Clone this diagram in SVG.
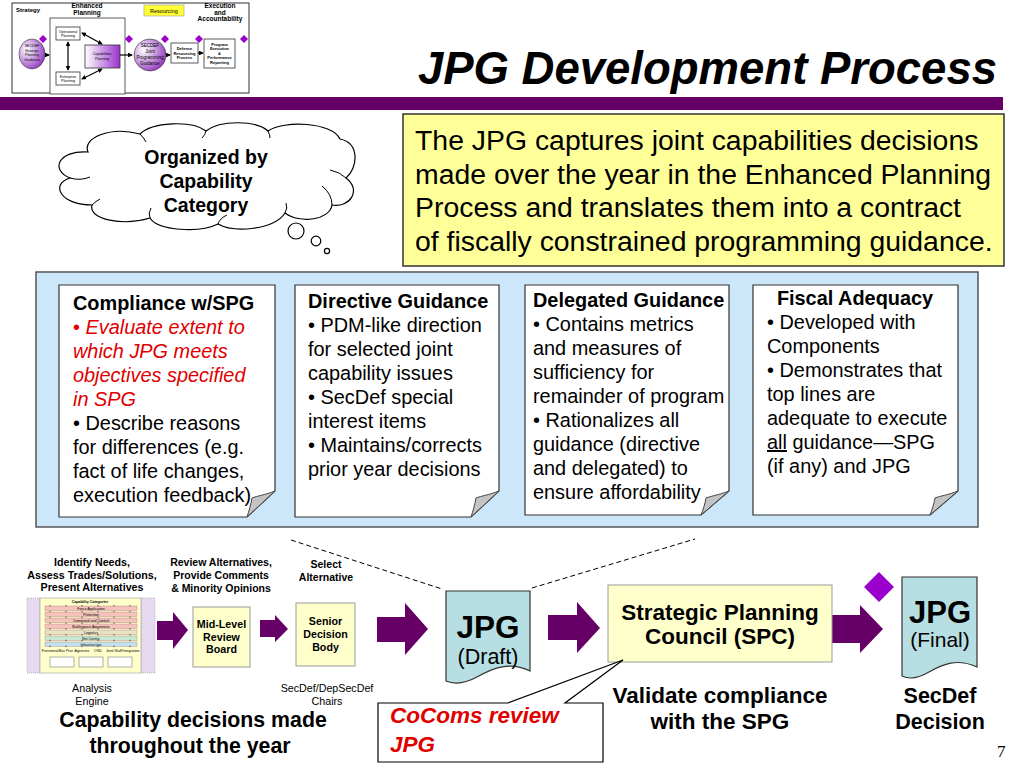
<svg xmlns="http://www.w3.org/2000/svg" width="1024" height="768" viewBox="0 0 1024 768">
<defs>
<style>
text{font-family:"Liberation Sans",Arial,sans-serif;fill:#000}
.b{font-weight:bold}
.c{text-anchor:middle}
.body{font-size:19.9px}
.red{fill:#e00000}
.arr{fill:#660066}
.note{fill:#fff;stroke:#333;stroke-width:1.2}
.fold{fill:#c4c4c4;stroke:#444;stroke-width:1}
.ybox{fill:#ffffcc;stroke:#999;stroke-width:1}
.doc{fill:#b7dee3;stroke:#333;stroke-width:1.2}
.tiny{font-size:3.6px}
.mini{font-size:6.5px;font-weight:bold}
.mb{fill:#fff;stroke:#333;stroke-width:0.8}
.dia{fill:#9900cc}
.ml{stroke:#000;stroke-width:1.2;fill:none}
</style>
<linearGradient id="pg" x1="0" y1="0" x2="1" y2="0"><stop offset="0" stop-color="#fff"/><stop offset="1" stop-color="#9933cc"/></linearGradient>
<radialGradient id="cg" cx="0.3" cy="0.35" r="0.8"><stop offset="0" stop-color="#fff"/><stop offset="1" stop-color="#8a2bb8"/></radialGradient>
<marker id="ma" viewBox="0 0 6 6" refX="5" refY="3" markerWidth="4" markerHeight="4" orient="auto-start-reverse"><path d="M0,0 L6,3 L0,6 Z" fill="#000"/></marker>
</defs>
<rect width="1024" height="768" fill="#fff"/>

<!-- mini overview diagram -->
<g id="overview">
<rect x="12" y="3" width="237" height="90" fill="#fff" stroke="#333" stroke-width="1"/>
<text x="16" y="12" class="mini" style="font-size:6px">Strategy</text>
<text x="87" y="8" class="mini c">Enhanced</text>
<text x="87" y="15" class="mini c">Planning</text>
<rect x="144" y="5" width="40" height="11" fill="#ffff33" stroke="#999" stroke-width="0.6"/>
<text x="164" y="13" class="c" style="font-size:5.5px">Resourcing</text>
<text x="220" y="8" class="mini c">Execution</text>
<text x="220" y="14.5" class="mini c">and</text>
<text x="220" y="21" class="mini c">Accountability</text>
<rect x="50" y="18" width="75" height="76" fill="#fff" stroke="#333" stroke-width="0.8"/>
<rect x="56" y="27" width="24" height="13" class="mb"/>
<text x="68" y="32.5" class="tiny c">Operational</text><text x="68" y="37" class="tiny c">Planning</text>
<rect x="56" y="72" width="24" height="13" class="mb"/>
<text x="68" y="77.5" class="tiny c">Enterprise</text><text x="68" y="82" class="tiny c">Planning</text>
<rect x="85" y="45" width="35" height="23" fill="url(#pg)" stroke="#333" stroke-width="0.8"/>
<text x="102" y="55" class="tiny c">Capabilities</text><text x="102" y="59.5" class="tiny c">Planning</text>
<line x1="68" y1="42" x2="68" y2="70" class="ml" marker-start="url(#ma)" marker-end="url(#ma)"/>
<line x1="82" y1="33" x2="102" y2="44" class="ml" marker-start="url(#ma)" marker-end="url(#ma)"/>
<line x1="82" y1="79" x2="102" y2="69" class="ml" marker-start="url(#ma)" marker-end="url(#ma)"/>
<ellipse cx="32" cy="54" rx="13" ry="15" fill="url(#cg)" stroke="#333" stroke-width="0.6"/>
<text x="32" y="47" class="tiny c">SECDEF</text><text x="32" y="51.5" class="tiny c">Strategic</text><text x="32" y="56" class="tiny c">Planning</text><text x="32" y="60.5" class="tiny c">Guidance</text>
<line x1="45" y1="55" x2="49" y2="55" class="ml" marker-end="url(#ma)"/>
<line x1="120" y1="55" x2="132" y2="55" class="ml" marker-end="url(#ma)"/>
<ellipse cx="150" cy="55" rx="16" ry="16" fill="url(#cg)" stroke="#333" stroke-width="0.6"/>
<text x="150" y="47" class="c" style="font-size:4.5px">SECDEF</text><text x="150" y="53" class="c" style="font-size:4.5px">Joint</text><text x="150" y="59" class="c" style="font-size:4.5px">Programming</text><text x="150" y="65" class="c" style="font-size:4.5px">Guidance</text>
<line x1="166" y1="55" x2="170" y2="55" class="ml" marker-end="url(#ma)"/>
<rect x="171" y="43" width="27" height="20" class="mb"/>
<text x="184.5" y="50" class="c b" style="font-size:4px">Defense</text><text x="184.5" y="54.5" class="c b" style="font-size:4px">Resourcing</text><text x="184.5" y="59" class="c b" style="font-size:4px">Process</text>
<line x1="198" y1="53" x2="203" y2="53" class="ml" marker-end="url(#ma)"/>
<rect x="204" y="39" width="31" height="29" class="mb"/>
<text x="219.5" y="45.5" class="c b" style="font-size:4px">Program</text><text x="219.5" y="50" class="c b" style="font-size:4px">Execution</text><text x="219.5" y="54.5" class="c b" style="font-size:4px">&amp;</text><text x="219.5" y="59" class="c b" style="font-size:4px">Performance</text><text x="219.5" y="63.5" class="c b" style="font-size:4px">Reporting</text>
<path class="dia" d="M43,35 L47,39 L43,43 L39,39 Z M129,35 L133,39 L129,43 L125,39 Z M165,35 L169,39 L165,43 L161,39 Z M199,35 L203,39 L199,43 L195,39 Z M244,35 L248,39 L244,43 L240,39 Z"/>
</g>

<!-- title -->
<g id="title">
<text x="997" y="84" class="b" style="font-size:45.5px;font-style:italic;text-anchor:end">JPG Development Process</text>
<rect x="0" y="97" width="1003" height="13" fill="#660066"/>
</g>

<!-- summary box -->
<g id="summary">
<rect x="403" y="114" width="601" height="152" fill="#ffff99" stroke="#333" stroke-width="1.5"/>
<text x="415" y="150" style="font-size:28.4px">The JPG captures joint capabilities decisions</text>
<text x="415" y="184" style="font-size:28.4px">made over the year in the Enhanced Planning</text>
<text x="415" y="217" style="font-size:28.4px">Process and translates them into a contract</text>
<text x="415" y="251" style="font-size:28.4px">of fiscally constrained programming guidance.</text>
</g>

<!-- cloud -->
<g id="cloud">
<path d="M88,152 C82,138 110,126 140,134 C152,122 192,120 206,131 C220,120 256,120 268,131 C284,120 332,122 340,139 C360,143 358,168 346,178 C362,190 350,208 332,205 C330,220 300,224 285,213 C274,230 234,233 218,224 C200,233 158,231 150,218 C124,226 88,220 92,205 C60,205 50,184 70,178 C50,170 58,150 88,152 Z" fill="#fff" stroke="#000" stroke-width="1.2"/>
<path d="M70,178 Q80,181 90,177 M92,205 Q96,201 100,199 M150,218 Q148,213 151,208 M218,224 Q220,218 227,215 M285,213 Q288,208 286,203 M332,205 Q332,194 322,186 M346,178 Q340,172 330,170 M140,134 Q144,138 146,142 M206,131 Q205,135 202,138 M268,131 Q270,135 270,138" fill="none" stroke="#000" stroke-width="1"/>
<circle cx="296" cy="231" r="8" fill="#fff" stroke="#000" stroke-width="1.2"/>
<circle cx="316" cy="241" r="4.8" fill="#fff" stroke="#000" stroke-width="1.2"/>
<circle cx="327" cy="251" r="2.6" fill="#fff" stroke="#000" stroke-width="1.2"/>
<text x="206" y="164" class="b c" style="font-size:19.5px">Organized by</text>
<text x="206" y="188" class="b c" style="font-size:19.5px">Capability</text>
<text x="206" y="212" class="b c" style="font-size:19.5px">Category</text>
</g>

<!-- blue panel -->
<rect id="panel" x="36" y="272" width="942" height="255" fill="#cce6fa" stroke="#555" stroke-width="1.5"/>

<g id="box-compliance">
<path class="note" d="M59,285 H275 V491 L247,517 H59 Z"/>
<path class="fold" d="M275,491 C265,495 257,496 252,498 C251,504 249,511 247,517 Z"/>
<text x="73" y="310" class="b body">Compliance w/SPG</text>
<text x="73" y="334" class="body red" style="font-style:italic"><tspan style="font-style:normal">•</tspan> Evaluate extent to</text>
<text x="73" y="358" class="body red" style="font-style:italic">which JPG meets</text>
<text x="73" y="382" class="body red" style="font-style:italic">objectives specified</text>
<text x="73" y="406" class="body red" style="font-style:italic">in SPG</text>
<text x="73" y="430" class="body">• Describe reasons</text>
<text x="73" y="454" class="body">for differences (e.g.</text>
<text x="73" y="478" class="body">fact of life changes,</text>
<text x="73" y="502" class="body">execution feedback)</text>
</g>

<g id="box-directive">
<path class="note" d="M295,285 H499 V491 L471,517 H295 Z"/>
<path class="fold" d="M499,491 C489,495 481,496 476,498 C475,504 473,511 471,517 Z"/>
<text x="308" y="308" class="b body">Directive Guidance</text>
<text x="308" y="332" class="body">• PDM-like direction</text>
<text x="308" y="356" class="body">for selected joint</text>
<text x="308" y="380" class="body">capability issues</text>
<text x="308" y="404" class="body">• SecDef special</text>
<text x="308" y="428" class="body">interest items</text>
<text x="308" y="452" class="body">• Maintains/corrects</text>
<text x="308" y="476" class="body">prior year decisions</text>
</g>

<g id="box-delegated">
<path class="note" d="M525,285 H729 V491 L701,515 H525 Z"/>
<path class="fold" d="M729,491 C719,495 711,496 706,498 C705,504 703,510 701,515 Z"/>
<text x="533" y="307" class="b body">Delegated Guidance</text>
<text x="533" y="331" class="body">• Contains metrics</text>
<text x="533" y="355" class="body">and measures of</text>
<text x="533" y="379" class="body">sufficiency for</text>
<text x="533" y="403" class="body">remainder of program</text>
<text x="533" y="427" class="body">• Rationalizes all</text>
<text x="533" y="451" class="body">guidance (directive</text>
<text x="533" y="475" class="body">and delegated) to</text>
<text x="533" y="499" class="body">ensure affordability</text>
</g>

<g id="box-fiscal">
<path class="note" d="M753,285 H958 V491 L930,515 H753 Z"/>
<path class="fold" d="M958,491 C948,495 940,496 935,498 C934,504 932,510 930,515 Z"/>
<text x="855" y="305" class="b body c">Fiscal Adequacy</text>
<text x="767" y="329" class="body">• Developed with</text>
<text x="767" y="353" class="body">Components</text>
<text x="767" y="377" class="body">• Demonstrates that</text>
<text x="767" y="401" class="body">top lines are</text>
<text x="767" y="425" class="body">adequate to execute</text>
<text x="767" y="449" class="body"><tspan text-decoration="underline">all</tspan> guidance—SPG</text>
<text x="767" y="473" class="body">(if any) and JPG</text>
</g>

<!-- connectors -->
<g id="connectors">
<line x1="291" y1="540" x2="442" y2="589" stroke="#000" stroke-width="1" stroke-dasharray="5,3"/>
<line x1="532" y1="588" x2="695" y2="539" stroke="#000" stroke-width="1" stroke-dasharray="5,3"/>
<path class="arr" d="M157,621 H173 V612 L188,630 L173,649 V640 H157 Z"/>
<path class="arr" d="M260,620 H275 V615 L288,629 L275,642 V637 H260 Z"/>
<path class="arr" d="M377,617 H405 V603 L428,629 L405,655 V642 H377 Z"/>
<path class="arr" d="M548,615 H577 V602 L600,628 L577,653 V640 H548 Z"/>
<path class="arr" d="M832,615 H860 V605 L883,629 L860,653 V643 H832 Z"/>
</g>

<!-- analysis engine -->
<g id="analysis-engine">
<text x="92" y="566" class="b c" style="font-size:10.7px">Identify Needs,</text>
<text x="92" y="579" class="b c" style="font-size:10.7px">Assess Trades/Solutions,</text>
<text x="92" y="591" class="b c" style="font-size:10.7px">Present Alternatives</text>
<rect x="27" y="598" width="13" height="75" fill="#e6d9f0" stroke="#999" stroke-width="0.6" stroke-dasharray="1,1"/>
<rect x="141" y="598" width="14" height="75" fill="#e6d9f0" stroke="#999" stroke-width="0.6" stroke-dasharray="1,1"/>
<rect x="40" y="598" width="101" height="75" fill="#ffffcc" stroke="#999" stroke-width="0.6"/>
<text x="90" y="603" class="tiny c b">Capability Categories</text>
<g stroke="#b08080" stroke-width="0.4">
<rect x="45" y="606" width="92" height="4.5" fill="#f6c2bc"/>
<rect x="45" y="612" width="92" height="4.5" fill="#f6c2bc"/>
<rect x="45" y="618" width="92" height="4.5" fill="#f6c2bc"/>
<rect x="45" y="624" width="92" height="4.5" fill="#f6c2bc"/>
<rect x="45" y="630" width="92" height="4.5" fill="#e8e2c4"/>
<rect x="45" y="636" width="92" height="4.5" fill="#c8e8d4"/>
<rect x="45" y="642" width="92" height="4.5" fill="#bfe0ec"/>
</g>
<text x="91" y="609.5" class="tiny c">Force Application</text>
<text x="91" y="615.5" class="tiny c">Protection</text>
<text x="91" y="621.5" class="tiny c">Command and Control</text>
<text x="91" y="627.5" class="tiny c">Battlespace Awareness</text>
<text x="91" y="633.5" class="tiny c">Logistics</text>
<text x="91" y="639.5" class="tiny c">Net-Centric</text>
<text x="91" y="645.5" class="tiny c">Infrastructure</text>
<g stroke="#333" stroke-width="0.8" stroke-dasharray="1.5,4.3">
<line x1="50" y1="605" x2="50" y2="648"/><line x1="66" y1="605" x2="66" y2="648"/><line x1="82" y1="605" x2="82" y2="648"/><line x1="98" y1="605" x2="98" y2="648"/><line x1="114" y1="605" x2="114" y2="648"/><line x1="130" y1="605" x2="130" y2="648"/>
</g>
<text x="50" y="652" class="tiny c">Functional</text>
<text x="66" y="652" class="tiny c">Bus Proc</text>
<text x="82" y="652" class="tiny c">Agencies</text>
<text x="98" y="652" class="tiny c">OSD</text>
<text x="114" y="652" class="tiny c">Joint Staff</text>
<text x="131" y="652" class="tiny c">Integration</text>
<rect x="50" y="657" width="24" height="10" fill="#fff" stroke="#666" stroke-width="0.5"/>
<rect x="79" y="657" width="24" height="10" fill="#fff" stroke="#666" stroke-width="0.5"/>
<rect x="108" y="657" width="24" height="10" fill="#fff" stroke="#666" stroke-width="0.5"/>
<text x="92" y="692" class="c" style="font-size:10.7px">Analysis</text>
<text x="92" y="705" class="c" style="font-size:10.7px">Engine</text>
</g>

<g id="mid-level">
<text x="221" y="566" class="b c" style="font-size:10.5px">Review Alternatives,</text>
<text x="221" y="579" class="b c" style="font-size:10.5px">Provide Comments</text>
<text x="221" y="592" class="b c" style="font-size:10.5px">&amp; Minority Opinions</text>
<rect x="193" y="607" width="57" height="60" class="ybox"/>
<text x="221.5" y="628" class="b c" style="font-size:10.7px">Mid-Level</text>
<text x="221.5" y="641" class="b c" style="font-size:10.7px">Review</text>
<text x="221.5" y="653" class="b c" style="font-size:10.7px">Board</text>
</g>

<g id="senior">
<text x="326" y="568" class="b c" style="font-size:10.5px">Select</text>
<text x="326" y="581" class="b c" style="font-size:10.5px">Alternative</text>
<rect x="296" y="603" width="59" height="63" class="ybox"/>
<text x="325.5" y="625" class="b c" style="font-size:10.7px">Senior</text>
<text x="325.5" y="638" class="b c" style="font-size:10.7px">Decision</text>
<text x="325.5" y="651" class="b c" style="font-size:10.7px">Body</text>
<text x="327" y="692" class="c" style="font-size:10.7px">SecDef/DepSecDef</text>
<text x="327" y="705" class="c" style="font-size:10.7px">Chairs</text>
</g>

<g id="jpg-draft">
<path class="doc" d="M446,591 H530 V671 C510,661 493,668 477,677 C464,684 453,684 446,681 Z"/>
<text x="488" y="638" class="b c" style="font-size:31.5px">JPG</text>
<text x="488" y="664" class="c" style="font-size:21.5px">(Draft)</text>
</g>

<g id="spc">
<rect x="608" y="585" width="224" height="77" class="ybox"/>
<text x="720" y="620" class="b c" style="font-size:22.5px">Strategic Planning</text>
<text x="720" y="644" class="b c" style="font-size:22.5px">Council (SPC)</text>
<text x="720" y="703" class="b c" style="font-size:22.5px">Validate compliance</text>
<text x="720" y="729" class="b c" style="font-size:22.5px">with the SPG</text>
</g>

<g id="jpg-final">
<path class="dia" d="M879,572 L894,587 L879,602 L864,587 Z"/>
<path class="doc" d="M902,577 H977 V667 C957,658 943,664 929,672 C917,679 908,679 902,676 Z"/>
<text x="940" y="623" class="b c" style="font-size:31px">JPG</text>
<text x="940" y="647" class="c" style="font-size:21px">(Final)</text>
<text x="940" y="703" class="b c" style="font-size:21.5px">SecDef</text>
<text x="940" y="729" class="b c" style="font-size:21.5px">Decision</text>
</g>

<g id="cocoms">
<path d="M378,703 H508 L623,660 L565,703 H603 V762 H378 Z" fill="#fff" stroke="#000" stroke-width="1.2"/>
<text x="390" y="723" class="b red" style="font-size:22.5px;font-style:italic">CoComs review</text>
<text x="390" y="752" class="b red" style="font-size:22.5px;font-style:italic">JPG</text>
</g>

<g id="footer">
<text x="193" y="727" class="b c" style="font-size:21.3px">Capability decisions made</text>
<text x="190" y="753" class="b c" style="font-size:21.3px">throughout the year</text>
<text x="997" y="757" style="font-family:'Liberation Serif',serif;font-size:17px">7</text>
</g>
</svg>
